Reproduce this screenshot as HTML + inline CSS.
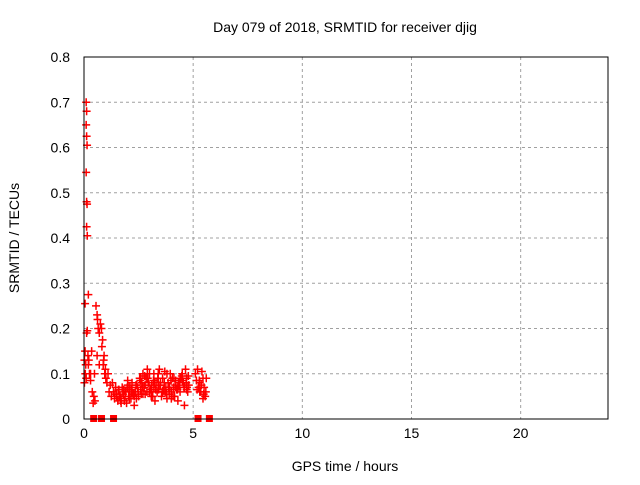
<!DOCTYPE html>
<html><head><meta charset="utf-8"><style>
body{margin:0;background:#fff;}
svg text{font-family:"Liberation Sans",sans-serif;font-size:14px;fill:#000;}
</style></head><body>
<svg id="c" width="640" height="480">
<rect width="640" height="480" fill="#fff"/>
<text x="345" y="32" text-anchor="middle">Day 079 of 2018, SRMTID for receiver djig</text>
<text x="345" y="471" text-anchor="middle">GPS time / hours</text>
<text transform="translate(19,238) rotate(-90)" text-anchor="middle">SRMTID / TECUs</text>
<g id="grid"></g><g id="pts"></g>
<rect x="84" y="57" width="524" height="362" fill="none" stroke="#000" stroke-width="1"/>
</svg>
<script>
const xTicks=[0,5,10,15,20];
const yTicks=[0,0.1,0.2,0.3,0.4,0.5,0.6,0.7,0.8];
const times=[0.1,0.12,0.1,0.12,0.14,0.1,0.12,0.14,0.12,0.15,0.2,0.05,0.15,0.02,0.05,0.08,0.12,0.18,0.22,0.25,0.3,0.35,0.02,0.06,0.1,0.2,0.3,0.38,0.45,0.5,0.42,0.48,0.55,0.6,0.62,0.65,0.6,0.7,0.75,0.7,0.8,0.85,0.9,0.95,0.82,0.88,0.92,0.98,1.0,1.05,1.1,1.15,1.2,1.25,1.3,1.35,1.4,1.45,1.5,1.55,1.6,1.65,1.7,1.75,1.8,1.85,1.9,1.95,2.0,2.05,2.1,2.15,2.2,2.25,2.3,2.35,2.4,2.45,2.5,2.55,2.6,2.65,2.7,2.75,2.8,2.85,2.9,2.95,3.0,3.05,3.1,3.15,3.2,3.25,3.3,3.35,3.4,3.45,3.5,3.55,3.6,3.65,3.7,3.75,3.8,3.85,3.9,3.95,4.0,4.05,4.1,4.15,4.2,4.25,4.3,4.35,4.4,4.45,4.5,4.55,4.6,4.65,4.7,4.75,4.8,5.1,5.15,5.2,5.25,5.3,5.35,5.4,5.45,5.5,5.55,5.6,1.5,1.7,1.9,2.1,2.3,2.6,2.8,3.0,3.2,3.4,3.6,3.8,4.0,4.2,4.4,4.6,2.0,2.2,2.7,3.1,3.5,3.9,4.3,4.7,5.3,5.45,
1.42,1.58,1.68,1.78,1.88,1.98,2.08,2.18,2.28,2.38,2.48,2.58,2.68,2.78,2.88,2.98,3.08,3.18,3.28,3.38,3.48,3.58,3.68,3.78,3.88,3.98,4.08,4.18,4.28,4.38,4.48,4.58,4.68,4.78,5.18,5.28,5.38,5.48,5.58,1.62,1.82,2.02,2.42,2.62,2.92,3.22,3.42,3.72,3.92,4.12,4.32,4.52,4.72,5.22,5.42];
const values=[0.70,0.68,0.65,0.625,0.605,0.545,0.48,0.475,0.425,0.405,0.275,0.255,0.195,0.13,0.15,0.12,0.19,0.14,0.13,0.1,0.085,0.15,0.08,0.1,0.09,0.12,0.1,0.06,0.05,0.04,0.035,0.1,0.25,0.23,0.22,0.2,0.14,0.12,0.21,0.19,0.2,0.175,0.13,0.1,0.16,0.12,0.14,0.11,0.09,0.08,0.1,0.06,0.075,0.05,0.08,0.06,0.045,0.07,0.05,0.04,0.065,0.05,0.035,0.07,0.055,0.04,0.06,0.035,0.075,0.05,0.065,0.045,0.08,0.055,0.03,0.06,0.045,0.07,0.05,0.09,0.065,0.08,0.1,0.07,0.055,0.09,0.11,0.08,0.1,0.065,0.06,0.05,0.07,0.04,0.08,0.06,0.1,0.11,0.075,0.05,0.09,0.065,0.105,0.07,0.045,0.08,0.055,0.1,0.06,0.09,0.07,0.05,0.085,0.065,0.04,0.075,0.06,0.09,0.1,0.08,0.07,0.11,0.09,0.06,0.075,0.1,0.085,0.11,0.07,0.08,0.06,0.105,0.09,0.07,0.05,0.09,0.055,0.045,0.06,0.07,0.05,0.09,0.075,0.06,0.1,0.08,0.06,0.1,0.045,0.07,0.09,0.03,0.085,0.06,0.055,0.075,0.08,0.065,0.07,0.065,
0.06,0.045,0.055,0.065,0.04,0.06,0.05,0.07,0.045,0.065,0.055,0.075,0.06,0.085,0.07,0.095,0.06,0.075,0.05,0.085,0.065,0.09,0.075,0.06,0.08,0.055,0.07,0.085,0.05,0.075,0.065,0.08,0.095,0.07,0.08,0.095,0.065,0.085,0.075,0.055,0.06,0.05,0.065,0.07,0.075,0.055,0.09,0.08,0.065,0.06,0.07,0.09,0.08,0.085,0.07];
const zeroTimes=[0.42,0.78,1.33,5.2,5.72];
const X=t=>84+t*(524/24), Y=v=>419-v*(362/0.8);
const NS='http://www.w3.org/2000/svg';
const grid=document.getElementById('grid'), pts=document.getElementById('pts');
function mk(tag,at,parent){const e=document.createElementNS(NS,tag);for(const k in at)e.setAttribute(k,at[k]);parent.appendChild(e);return e;}
xTicks.forEach(t=>{
 if(t>0){const g=mk('line',{x1:X(t),x2:X(t),y1:57,y2:419,stroke:'#a0a0a0','stroke-dasharray':'3,3'},grid);
 
 }
 const l=mk('text',{x:X(t),y:438,'text-anchor':'middle'},grid);l.textContent=t;
 
 
});
yTicks.forEach(v=>{
 if(v>0&&v<0.8){const g=mk('line',{x1:84,x2:608,y1:Y(v),y2:Y(v),stroke:'#a0a0a0','stroke-dasharray':'3,3'},grid);
 
 }
 const l=mk('text',{x:70,y:Y(v)+5,'text-anchor':'end'},grid);l.textContent=v===0?'0':v.toFixed(1);
 
 
});
times.forEach((t,i)=>{
 const x=X(t),y=Y(values[i]);
 const p=mk('path',{d:`M${x-4},${y}H${x+4}M${x},${y-4}V${y+4}`,stroke:'#f00','stroke-width':1.5,fill:'none'},pts);
 
 
});
zeroTimes.forEach(t=>{
 const x=X(t),y=Y(0);
 const p=mk('rect',{x:x-3,y:y-4,width:7,height:7,fill:'#f00'},pts);
 
 
});
</script>
</body></html>
